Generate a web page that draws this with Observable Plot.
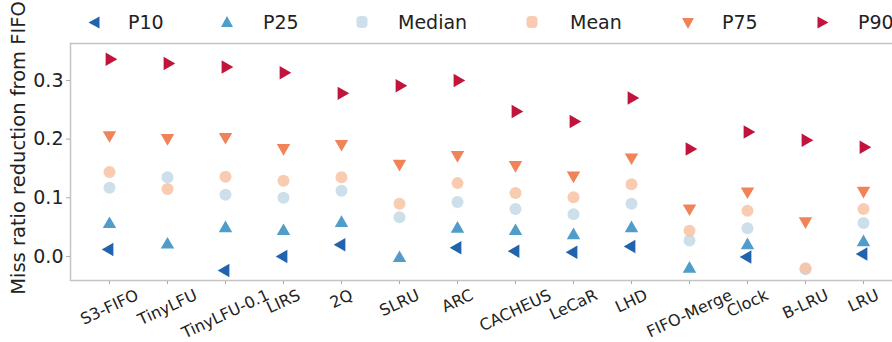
<!DOCTYPE html>
<html>
<head>
<meta charset="utf-8">
<script src="https://cdn.jsdelivr.net/npm/d3@7"></script>
<script src="https://cdn.jsdelivr.net/npm/@observablehq/plot@0.6"></script>
<style>
  html, body { margin: 0; padding: 0; background: #fff; overflow: hidden; width: 892px; height: 342px; }
  body { font-family: "DejaVu Sans", sans-serif; }
  #legend { position: relative; height: 36px; font-size: 19px; color: #222; white-space: nowrap; }
  .mk { position: absolute; top: 15px; width: 14px; height: 14px; display: block; }
  .lt { position: absolute; top: 10px; line-height: 24px; }
  #chart { width: 910px; }
  #chart svg { display: block; max-width: none; }
</style>
</head>
<body>
<div id="legend"></div>
<div id="chart"></div>
<script>
const categories = ["S3-FIFO","TinyLFU","TinyLFU-0.1","LIRS","2Q","SLRU","ARC","CACHEUS","LeCaR","LHD","FIFO-Merge","Clock","B-LRU","LRU"];
const seriesNames = ["P10","P25","Median","Mean","P75","P90"];
const p10    = [0.012, null, -0.024, 0.000, 0.020, null, 0.015, 0.009, 0.007, 0.017, null, -0.001, null, 0.004];
const p25    = [0.055, 0.020, 0.048, 0.043, 0.057, -0.003, 0.047, 0.043, 0.036, 0.048, -0.021, 0.019, null, 0.024];
const median = [0.117, 0.135, 0.105, 0.100, 0.112, 0.067, 0.093, 0.081, 0.072, 0.090, 0.027, 0.048, -0.022, 0.057];
const mean   = [0.144, 0.115, 0.136, 0.129, 0.135, 0.090, 0.125, 0.108, 0.101, 0.123, 0.044, 0.078, -0.020, 0.081];
const p75    = [0.207, 0.202, 0.204, 0.185, 0.192, 0.158, 0.173, 0.156, 0.138, 0.169, 0.082, 0.111, 0.060, 0.112];
const p90    = [0.336, 0.329, 0.323, 0.313, 0.278, 0.291, 0.300, 0.247, 0.230, 0.270, 0.183, 0.212, 0.198, 0.186];
const yTicks = [0, 0.1, 0.2, 0.3];
const yLabel = "Miss ratio reduction from FIFO";

const styles = {
  "P10":    {color: "#2163ac", symbol: "triangle", rotate: -90, r: 5, opacity: 1},
  "P25":    {color: "#4f9dc8", symbol: "triangle", rotate: 0,   r: 5, opacity: 1},
  "Median": {color: "#c4d9e8", symbol: "circle",   rotate: 0,   r: 6, opacity: 0.85},
  "Mean":   {color: "#f8c3a4", symbol: "circle",   rotate: 0,   r: 6, opacity: 0.85},
  "P75":    {color: "#f08458", symbol: "triangle", rotate: 180, r: 5, opacity: 1},
  "P90":    {color: "#c0143c", symbol: "triangle", rotate: 90,  r: 5, opacity: 1}
};
const valuesBySeries = {"P10": p10, "P25": p25, "Median": median, "Mean": mean, "P75": p75, "P90": p90};

const rows = [];
for (const s of seriesNames) {
  valuesBySeries[s].forEach((v, i) => { if (v != null) rows.push({cat: categories[i], value: v, series: s}); });
}

// Legend (marker centre x and text start x for each entry)
const legendMarkerX = [95, 227, 362, 532, 688, 822];
const legendTextX   = [128, 263, 398, 570, 722, 858];
const legend = document.getElementById("legend");
seriesNames.forEach((s, i) => {
  const st = styles[s];
  let shape;
  if (st.symbol === "circle") {
    shape = `<rect x="1.5" y="1" width="11" height="12" rx="4" fill="${st.color}" opacity="${st.opacity}"/>`;
  } else {
    shape = `<g transform="translate(7,7.5) rotate(${st.rotate})"><polygon points="0,-6.5 6,4.5 -6,4.5" fill="${st.color}"/></g>`;
  }
  const mk = document.createElementNS("http://www.w3.org/2000/svg", "svg");
  mk.setAttribute("class", "mk");
  mk.setAttribute("viewBox", "0 0 14 14");
  mk.style.left = (legendMarkerX[i] - 7) + "px";
  mk.innerHTML = shape;
  legend.appendChild(mk);
  const t = document.createElement("span");
  t.className = "lt";
  t.style.left = legendTextX[i] + "px";
  t.textContent = s;
  legend.appendChild(t);
});

// x tick label offsets computed from text width so rotated labels hang below the axis
const ctx = document.createElement("canvas").getContext("2d");
ctx.font = "16px 'DejaVu Sans'";
const angle = 25;
const rad = angle * Math.PI / 180;
const labelMarks = categories.map(c => {
  const w = ctx.measureText(c).width;
  const half = (w * Math.sin(rad) + 17 * Math.cos(rad)) / 2;
  return Plot.text([c], {x: d => d, frameAnchor: "bottom", dy: 6 + half, rotate: -angle,
    textAnchor: "middle", lineAnchor: "middle", fontSize: 16, fill: "#222"});
});

const dotMarks = seriesNames.map(s => {
  const st = styles[s];
  return Plot.dot(rows.filter(d => d.series === s), {
    x: "cat", y: "value", symbol: st.symbol, r: st.r, fill: st.color,
    fillOpacity: st.opacity, rotate: st.rotate, stroke: "none", clip: true
  });
});

const chart = Plot.plot({
  width: 910, height: 306,
  marginLeft: 70, marginRight: 8, marginTop: 7, marginBottom: 62,
  style: {fontFamily: "DejaVu Sans", fontSize: "19px", overflow: "visible", background: "transparent", color: "#222", maxWidth: "none"},
  x: {type: "point", domain: categories, padding: 0.635},
  y: {domain: [-0.041, 0.363]},
  marks: [
    Plot.axisY({ticks: yTicks, tickFormat: d3.format(".1f"), tickSize: 4, tickPadding: 3, stroke: "#aaa", fontSize: 19, fill: "#222", label: null}),
    Plot.axisX({tickSize: 4, tickFormat: () => "", stroke: "#aaa", label: null}),
    ...dotMarks,
    Plot.frame({stroke: "#c4c4c4", strokeWidth: 1.5}),
    ...labelMarks,
    Plot.text([yLabel], {frameAnchor: "left", dx: -52, dy: -14, rotate: -90, textAnchor: "middle", lineAnchor: "middle", fontSize: 19.5, fill: "#222"})
  ]
});
document.getElementById("chart").appendChild(chart);
</script>
</body>
</html>
